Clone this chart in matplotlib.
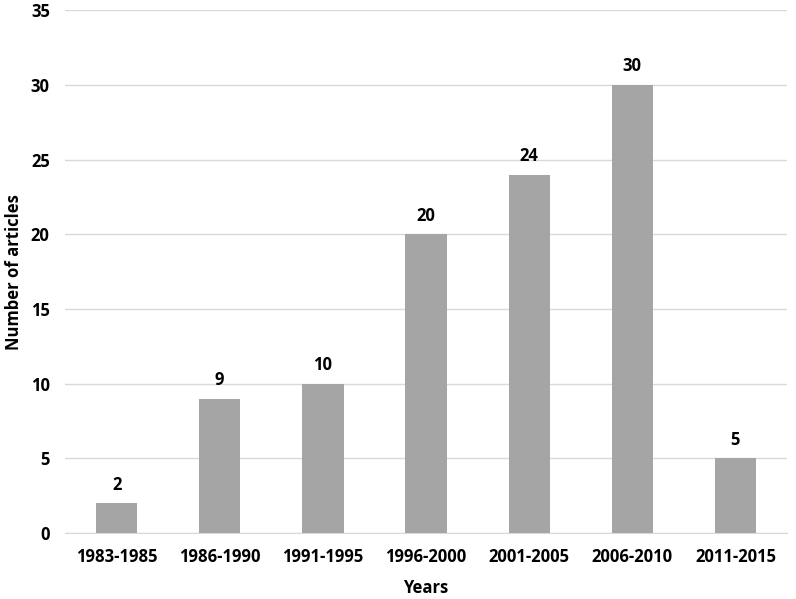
import matplotlib
matplotlib.use("Agg")
from matplotlib import pyplot as plt

periods = ["1983-1985", "1986-1990", "1991-1995", "1996-2000",
           "2001-2005", "2006-2010", "2011-2015"]
articles = [2, 9, 10, 20, 24, 30, 5]

plt.rcParams["font.family"] = ["Open Sans", "DejaVu Sans"]

fig = plt.figure(figsize=(7.96, 5.99), dpi=100)
ax = fig.add_axes([0.0817, 0.110, 0.907, 0.873])

x = range(len(periods))
bars = ax.bar(x, articles, width=0.4, color="#A5A5A5", zorder=3)
for b, v in zip(bars, articles):
    ax.annotate(str(v), (b.get_x() + b.get_width() / 2, v),
                xytext=(0, 7), textcoords="offset points",
                ha="center", va="bottom", fontsize=12, fontweight="bold")

ax.set_xlim(-0.5, len(periods) - 0.5)
ax.set_ylim(0, 35)
ax.set_yticks(range(0, 36, 5))
ax.set_xticks(list(x))
ax.set_xticklabels(periods)
ax.grid(axis="y", color="#D9D9D9", linewidth=1, zorder=0)
for s in ["top", "right", "left"]:
    ax.spines[s].set_visible(False)
ax.spines["bottom"].set_color("#D9D9D9")
ax.tick_params(length=0, labelsize=12)
ax.tick_params(axis="x", pad=11)
ax.tick_params(axis="y", pad=11)
for lbl in ax.get_xticklabels() + ax.get_yticklabels():
    lbl.set_fontweight("bold")

ax.set_xlabel("Years", fontsize=12, fontweight="bold")
ax.set_ylabel("Number of articles", fontsize=12, fontweight="bold")
ax.xaxis.set_label_coords(0.5, -0.088)
ax.yaxis.set_label_coords(-0.058, 0.5)

fig.savefig("out.png", dpi=100)
